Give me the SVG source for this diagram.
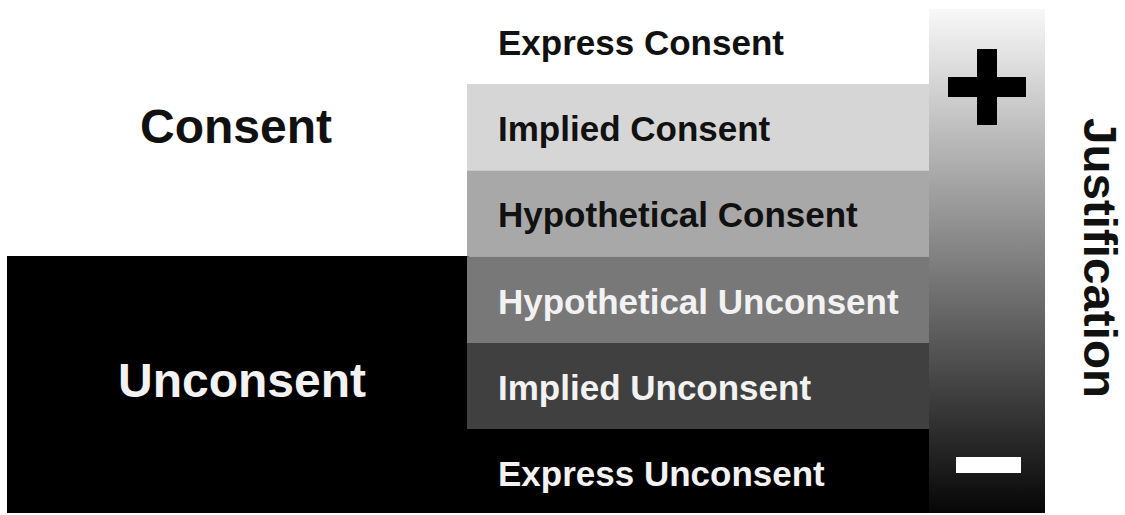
<svg xmlns="http://www.w3.org/2000/svg" width="1125" height="515" viewBox="0 0 1125 515">
  <defs>
    <linearGradient id="just" x1="0" y1="0" x2="0" y2="1">
      <stop offset="0" stop-color="#f8f8f8"/>
      <stop offset="1" stop-color="#060606"/>
    </linearGradient>
    <style>
      text { font-family: "Liberation Sans", Arial, sans-serif; font-weight: bold; }
      .row { font-size: 35px; }
      .big { font-size: 48px; }
      .dark { fill: #111; }
      .light { fill: #f2f2f2; }
    </style>
  </defs>
  <rect x="0" y="0" width="1125" height="515" fill="#ffffff"/>

  <g id="consent">
    <text class="big dark" x="140" y="143">Consent</text>
  </g>
  <g id="unconsent">
    <rect x="7" y="256" width="462" height="257" fill="#000000"/>
    <text class="big light" x="118" y="397">Unconsent</text>
  </g>

  <g id="express-consent">
    <text class="row dark" x="498" y="55">Express Consent</text>
  </g>
  <g id="implied-consent">
    <rect x="467" y="84" width="463" height="86.5" fill="#d6d6d6"/>
    <text class="row dark" x="498" y="141">Implied Consent</text>
  </g>
  <g id="hypothetical-consent">
    <rect x="467" y="170.5" width="463" height="86" fill="#a8a8a8"/>
    <text class="row dark" x="498" y="227">Hypothetical Consent</text>
  </g>
  <g id="hypothetical-unconsent">
    <rect x="467" y="256.5" width="463" height="86.5" fill="#787878"/>
    <text class="row light" x="498" y="314">Hypothetical Unconsent</text>
  </g>
  <g id="implied-unconsent">
    <rect x="467" y="343" width="463" height="86" fill="#404040"/>
    <text class="row light" x="498" y="400">Implied Unconsent</text>
  </g>
  <g id="express-unconsent">
    <rect x="467" y="429" width="463" height="84" fill="#000000"/>
    <text class="row light" x="498" y="486">Express Unconsent</text>
  </g>

  <g id="justification-scale">
    <rect x="929" y="9" width="116" height="504" fill="url(#just)"/>
    <rect x="977" y="49" width="20" height="76" fill="#000000"/>
    <rect x="948" y="77" width="78" height="20" fill="#000000"/>
    <rect x="956" y="457" width="65" height="16" fill="#ffffff"/>
  </g>

  <g id="justification-label">
    <text class="dark" font-size="47" x="0" y="0" textLength="280" lengthAdjust="spacingAndGlyphs" transform="translate(1084,118) rotate(90)">Justification</text>
  </g>
</svg>
